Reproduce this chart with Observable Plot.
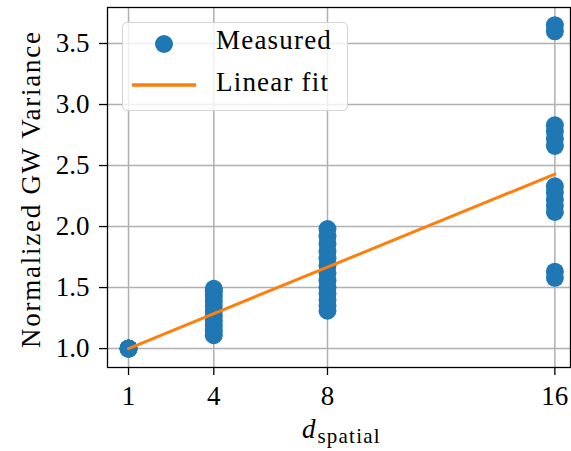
<!DOCTYPE html>
<html>
<head>
<meta charset="utf-8">
<script src="https://cdn.jsdelivr.net/npm/d3@7"></script>
<script src="https://cdn.jsdelivr.net/npm/@observablehq/plot@0.6"></script>
<style>
  html, body { margin: 0; padding: 0; background: #fff; }
  #wrap { position: relative; width: 571px; height: 451px; }
  #legend { position: absolute; left: 122px; top: 22px; width: 226px; height: 89px;
    border: 1.5px solid #d4d4d4; border-radius: 5px; background: rgba(255,255,255,0.8);
    box-sizing: border-box; font-family: "Liberation Serif", serif; font-size: 27px; color: #000; letter-spacing: 1.2px; }
  #legend .row { position: absolute; left: 0; height: 40px; width: 100%; }
  #legend .lab { position: absolute; left: 93px; top: 2px; white-space: nowrap; }
</style>
</head>
<body>
<div id="wrap">
  <div id="chart"></div>
  <div id="legend">
    <div class="row" style="top:0px">
      <svg width="90" height="40" style="position:absolute;left:0;top:0"><circle cx="41" cy="21" r="9" fill="#1f77b4"/></svg>
      <span class="lab">Measured</span>
    </div>
    <div class="row" style="top:42px">
      <svg width="90" height="40" style="position:absolute;left:0;top:0"><line x1="9" x2="73" y1="20" y2="20" stroke="#ff7f0e" stroke-width="3.5"/></svg>
      <span class="lab">Linear fit</span>
    </div>
  </div>
</div>
<script>
// Data
const dims = [1, 4, 8, 16];
const measured1 = [1.0, 1.0, 1.0, 1.0];
const measured4 = [1.11, 1.15, 1.19, 1.23, 1.27, 1.31, 1.35, 1.39, 1.43, 1.47, 1.49];
const measured8 = [1.31, 1.35, 1.40, 1.45, 1.50, 1.56, 1.62, 1.68, 1.74, 1.80, 1.86, 1.92, 1.98];
const measured16 = [3.65, 3.60, 2.83, 2.78, 2.72, 2.66, 2.33, 2.28, 2.22, 2.17, 2.12, 1.63, 1.58];
const fitX = [1, 16];
const fitY = [1.0, 2.43];
const xTicks = [1, 4, 8, 16];
const yTicks = [1.0, 1.5, 2.0, 2.5, 3.0, 3.5];

const points = [];
[measured1, measured4, measured8, measured16].forEach((arr, i) =>
  arr.forEach(v => points.push({x: dims[i], y: v})));
const fit = fitX.map((x, i) => ({x, y: fitY[i]}));

const font = "'Liberation Serif', serif";
const chart = Plot.plot({
  width: 571,
  height: 451,
  marginLeft: 107,
  marginTop: 7,
  marginBottom: 84,
  marginRight: 1,
  style: {fontFamily: font, fontSize: "27px", color: "#000", background: "#fff"},
  x: {domain: [0.26, 16.55], label: null},
  y: {domain: [0.845, 3.795], label: null},
  marks: [
    Plot.gridX(xTicks, {stroke: "#b0b0b0", strokeOpacity: 1, strokeWidth: 1.5}),
    Plot.gridY(yTicks, {stroke: "#b0b0b0", strokeOpacity: 1, strokeWidth: 1.5}),
    Plot.dot(points, {x: "x", y: "y", r: 9, fill: "#1f77b4", stroke: "none"}),
    Plot.line(fit, {x: "x", y: "y", stroke: "#ff7f0e", strokeWidth: 3}),
    Plot.frame({stroke: "#000", strokeWidth: 1.3}),
    Plot.axisX(xTicks, {tickSize: 8, tickPadding: 10, tickFormat: d => String(d), fontSize: 27, label: null, strokeWidth: 1.3}),
    Plot.axisY(yTicks, {tickSize: 8, tickPadding: 10, tickFormat: d => d.toFixed(1), fontSize: 27, label: null, strokeWidth: 1.3})
  ]
});
document.getElementById("chart").appendChild(chart);

const svg = d3.select(chart);
svg.append("text")
  .attr("transform", "translate(40,190) rotate(-90)")
  .attr("text-anchor", "middle")
  .style("font-family", font)
  .attr("font-size", 27)
  .attr("fill", "#000")
  .attr("textLength", 316)
  .attr("lengthAdjust", "spacing")
  .text("Normalized GW Variance");
const xl = svg.append("text")
  .attr("x", 302).attr("y", 438)
  .attr("text-anchor", "start")
  .style("font-family", font)
  .attr("font-size", 27)
  .attr("fill", "#000");
xl.append("tspan").attr("font-style", "italic").text("d");
xl.append("tspan").attr("font-size", 21).attr("dy", 5).attr("dx", 2).attr("letter-spacing", 1.2).text("spatial");
</script>
</body>
</html>
